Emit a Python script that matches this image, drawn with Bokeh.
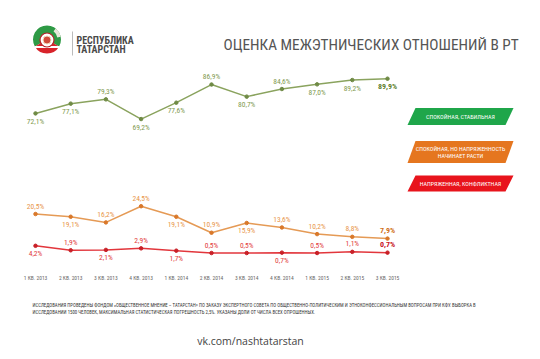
import numpy as np
from bokeh.plotting import figure
from bokeh.models import Range1d
from bokeh.core.properties import value
from bokeh.embed import file_html
from bokeh.resources import INLINE

# ---------------- data ----------------
quarters = ["1 КВ. 2013", "2 КВ. 2013", "3 КВ. 2013", "4 КВ. 2013", "1 КВ. 2014", "2 КВ. 2014",
            "3 КВ. 2014", "4 КВ. 2014", "1 КВ. 2015", "2 КВ. 2015", "3 КВ. 2015"]
calm_stable = [72.1, 77.1, 79.3, 69.2, 77.6, 86.9, 80.7, 84.6, 87.0, 89.2, 89.9]
calm_tension = [20.5, 19.1, 16.2, 24.5, 19.1, 10.9, 15.9, 13.6, 10.2, 8.8, 7.9]
conflict = [4.2, 1.9, 2.1, 2.9, 1.7, 0.5, 0.5, 0.7, 0.5, 1.1, 0.7]
series_names = ["СПОКОЙНАЯ, СТАБИЛЬНАЯ", "СПОКОЙНАЯ, НО НАПРЯЖЕННОСТЬ\nНАЧИНАЕТ РАСТИ", "НАПРЯЖЕННАЯ, КОНФЛИКТНАЯ"]
title_text = "ОЦЕНКА МЕЖЭТНИЧЕСКИХ ОТНОШЕНИЙ В РТ"
footnote = ["ИССЛЕДОВАНИЯ ПРОВЕДЕНЫ ФОНДОМ «ОБЩЕСТВЕННОЕ МНЕНИЕ – ТАТАРСТАН» ПО ЗАКАЗУ ЭКСПЕРТНОГО СОВЕТА ПО ОБЩЕСТВЕННО-ПОЛИТИЧЕСКИМ И ЭТНОКОНФЕССИОНАЛЬНЫМ ВОПРОСАМ ПРИ КФУ. ВЫБОРКА В",
            "ИССЛЕДОВАНИИ 1500 ЧЕЛОВЕК, МАКСИМАЛЬНАЯ СТАТИСТИЧЕСКАЯ ПОГРЕШНОСТЬ 2,5%. УКАЗАНЫ ДОЛИ ОТ ЧИСЛА ВСЕХ ОПРОШЕННЫХ."]
source = "vk.com/nashtatarstan"

# label placement (+1 above, -1 below)
place_green = [-1, -1, 1, -1, -1, 1, -1, 1, -1, -1, -1]
place_orange = [1, -1, 1, 1, -1, 1, -1, 1, 1, 1, 1]
place_red = [-1, 1, -1, 1, -1, 1, 1, -1, 1, 1, 1]

# ---------------- layout ----------------
OFF = 0
W, H = 532, 351
PX_PER_X = 35.2
PX_PER_Y = 1.95
X0 = -(35 - OFF) / PX_PER_X
X1 = X0 + W / PX_PER_X
Y1 = (253.5 - OFF) / PX_PER_Y
Y0 = Y1 - H / PX_PER_Y


def dx(px):
    return X0 + (px - OFF) / PX_PER_X


def dy(py):
    return Y1 - (py - OFF) / PX_PER_Y


NARROW = "Roboto Condensed"

p = figure(width=W, height=H, x_range=Range1d(X0, X1), y_range=Range1d(Y0, Y1),
           output_backend="svg", toolbar_location=None, min_border=0,
           x_axis_location=None, y_axis_location=None)
p.grid.visible = False
p.outline_line_color = None
p.background_fill_color = "white"
p.border_fill_color = "white"

xs = list(range(len(quarters)))

series = [
    (calm_stable, place_green, "#8aa35e", "#6f8a45", "#7f9a4f", "#5f7f2f"),
    (calm_tension, place_orange, "#e59a55", "#d9782a", "#e8964a", "#d0701a"),
    (conflict, place_red, "#e2363c", "#c82027", "#e23a3a", "#c8101a"),
]
for vals, place, lc, mc, tc, tc_last in series:
    p.line(xs, vals, line_color=lc, line_width=1.5)
    p.scatter(xs, vals, size=3.5, fill_color=mc, line_color=mc)
    ly = [v + s * 8 / PX_PER_Y for v, s in zip(vals, place)]
    labels = [f"{v:.1f}%".replace(".", ",") for v in vals]
    p.text(xs[:-1], ly[:-1], text=labels[:-1], text_font=value(NARROW), text_font_size="7.5px",
           text_color=tc, text_align="center", text_baseline="middle")
    p.text(xs[-1:], ly[-1:], text=labels[-1:], text_font=value(NARROW), text_font_size="8px",
           text_font_style="bold", text_color=tc_last, text_align="center", text_baseline="middle")

# x category labels
p.text(xs, [dy(277)] * len(xs), text=quarters, text_font=value(NARROW), text_font_size="5.5px",
       text_color="#666666", text_align="center", text_baseline="middle")

# title
p.text([dx(223)], [dy(44)], text=[title_text], text_font=value(NARROW), text_font_size="15.3px",
       text_color="#555555", text_align="left", text_baseline="middle")

# legend parallelograms
legend_colors = ["#1fa64a", "#e5761f", "#e8141c"]
boxes = [(107.5, 124.5), (140.5, 162.5), (175, 191)]
for (t, b), col, name in zip(boxes, legend_colors, series_names):
    px_l_top, px_r_top, px_l_bot, px_r_bot = 415, 513, 407, 505
    p.patch([dx(px_l_top), dx(px_r_top), dx(px_r_bot), dx(px_l_bot)],
            [dy(t), dy(t), dy(b), dy(b)], fill_color=col, line_color=None)
    lines = name.split("\n")
    mid = (t + b) / 2
    n = len(lines)
    for k, ln in enumerate(lines):
        yy = mid + (k - (n - 1) / 2) * 7.5
        p.text([dx(460)], [dy(yy)], text=[ln], text_font=value(NARROW), text_font_size="6px",
               text_color="white", text_align="center", text_baseline="middle")

# logo
cx, cy = dx(46.5), dy(39)
a = 0.52
p.wedge([cx], [cy], radius=14, radius_units="screen", start_angle=-a, end_angle=np.pi + a,
        fill_color="#2e9a45", line_color=None)
p.wedge([cx], [cy], radius=14, radius_units="screen", start_angle=np.pi + a, end_angle=2 * np.pi - a,
        fill_color="#d8232a", line_color=None)
p.annular_wedge([cx], [cy], inner_radius=10.5, outer_radius=14, inner_radius_units="screen",
                outer_radius_units="screen", start_angle=0.2, end_angle=0.9,
                fill_color="#e8e6d8", line_color=None)
p.rect([cx], [dy(46.5)], width=25, height=1.8, width_units="screen", height_units="screen",
       fill_color="white", line_color=None)
p.scatter([cx], [dy(39.5)], size=14, fill_color="white", line_color="#b32025", line_width=1.2)
p.scatter([cx], [dy(39.5)], size=8, fill_color="#d04a3a", line_color="#f3dcc0", line_width=1)
p.segment([dx(72)], [dy(31)], [dx(72)], [dy(55)], line_color="#bbbbbb", line_width=1)
p.text([dx(76)], [dy(39.5)], text=["РЕСПУБЛИКА"], text_font=value(NARROW), text_font_size="10px",
       text_font_style="bold", text_color="#4a4a4a", text_align="left", text_baseline="middle")
p.text([dx(76)], [dy(48.5)], text=["ТАТАРСТАН"], text_font=value(NARROW), text_font_size="10px",
       text_font_style="bold", text_color="#4a4a4a", text_align="left", text_baseline="middle")

# footnote
for k, ln in enumerate(footnote):
    p.text([dx(32)], [dy(305 + k * 6.5)], text=[ln], text_font=value(NARROW), text_font_size="4.8px",
           text_color="#333333", text_align="left", text_baseline="middle")

p.text([dx(250)], [dy(340)], text=[source], text_font=value("Open Sans"), text_font_size="10.5px",
       text_color="#444444", text_align="center", text_baseline="middle")

open("out.html", "w").write(file_html(p, INLINE))
